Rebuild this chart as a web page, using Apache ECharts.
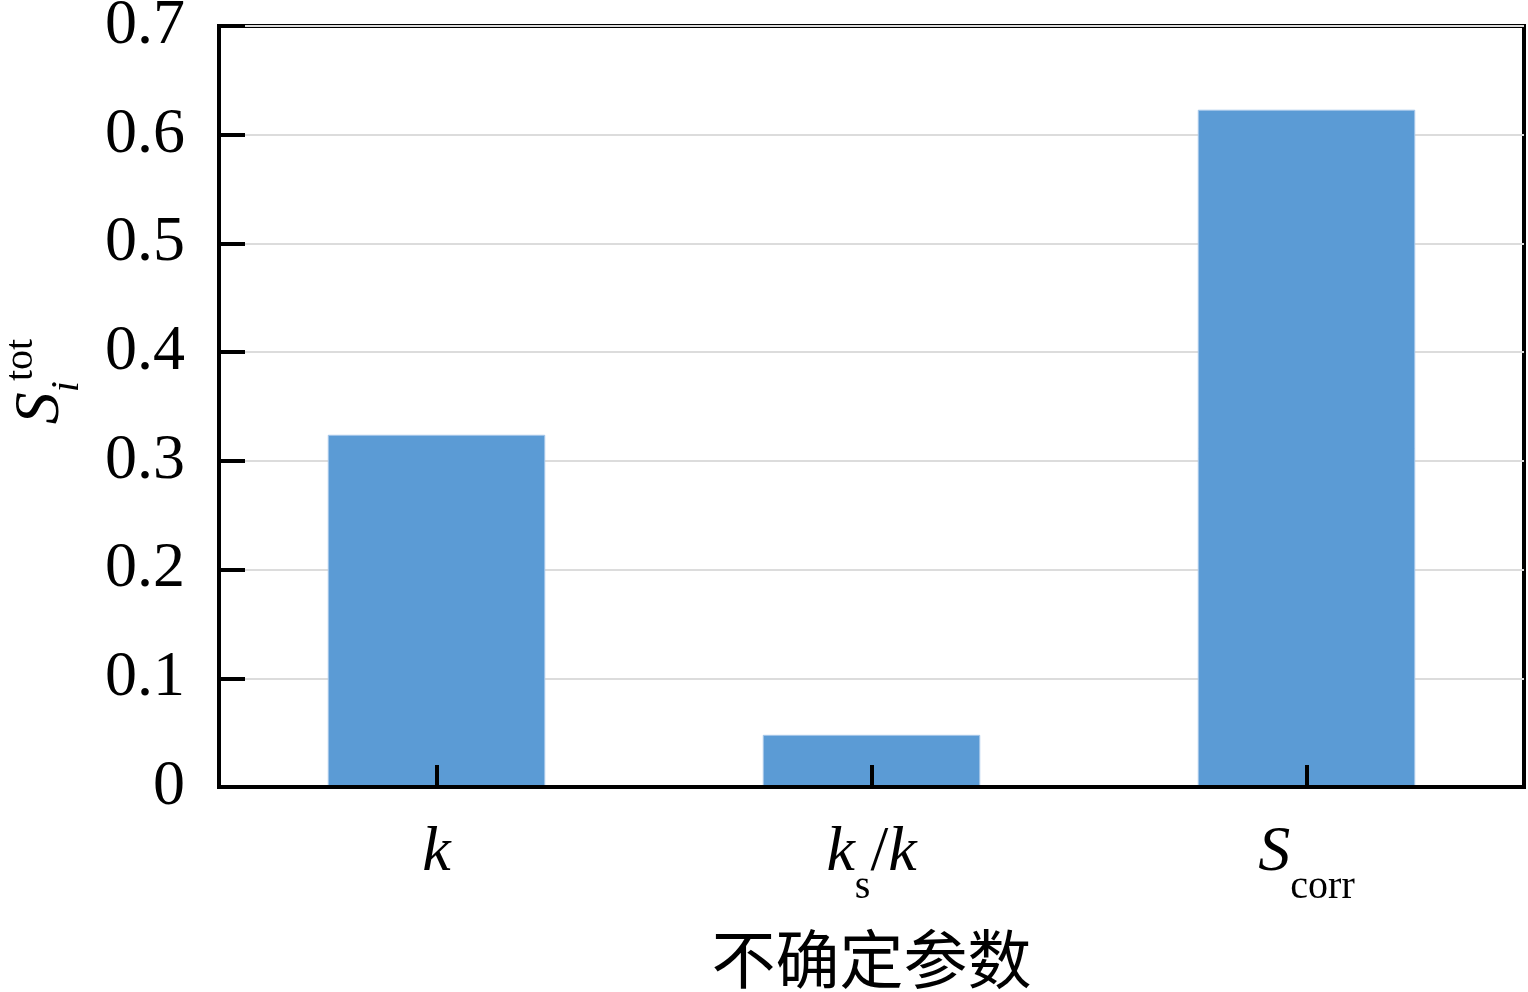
<!DOCTYPE html>
<html>
<head>
<meta charset="utf-8">
<script src="https://cdn.jsdelivr.net/npm/echarts@6/dist/echarts.min.js"></script>
<style>
html,body{margin:0;padding:0;background:#fff;}
#c{width:1528px;height:992px;}
</style>
</head>
<body>
<div id="c"></div>
<script>
const categories = ['k', 'ks/k', 'Scorr'];
const categoryLabels = ['{it|k}', '{it|k}{sub|s}{up|/}{it|k}', '{it|S}{sub2|corr}'];
const values = [0.324, 0.048, 0.623];
const yTicks = [0, 0.1, 0.2, 0.3, 0.4, 0.5, 0.6, 0.7];
const xAxisTitle = '不确定参数';

const serif = '"Liberation Serif", "DejaVu Serif", serif';
const chart = echarts.init(document.getElementById('c'));
chart.setOption({
  animation: false,
  backgroundColor: '#fff',
  grid: {
    left: 219, right: 4, top: 26, bottom: 205,
    containLabel: false,
    outerBoundsMode: 'none',
    show: true, borderColor: '#000', borderWidth: 4, backgroundColor: 'transparent'
  },
  xAxis: {
    type: 'category',
    data: categories,
    boundaryGap: true,
    z: 5,
    splitLine: { show: false },
    axisLine: { show: true, lineStyle: { color: '#000', width: 4 } },
    axisTick: { show: true, inside: true, alignWithLabel: true, length: 22, lineStyle: { color: '#000', width: 4 } },
    axisLabel: {
      margin: 34,
      formatter: function (v, i) { return categoryLabels[i]; },
      rich: {
        it: { fontFamily: serif, fontStyle: 'italic', fontSize: 64, color: '#000' },
        up: { fontFamily: serif, fontSize: 64, color: '#000' },
        sub: { fontFamily: serif, fontSize: 40, color: '#000', verticalAlign: 'bottom', padding: [0, 0, -22, 0] },
        sub2: { fontFamily: serif, fontSize: 40, color: '#000', verticalAlign: 'bottom', padding: [0, 0, -22, 0] }
      }
    },
    name: xAxisTitle,
    nameLocation: 'middle',
    nameGap: 140,
    nameTextStyle: { fontFamily: '"Noto Sans CJK SC", sans-serif', fontSize: 64, color: '#000' }
  },
  yAxis: {
    type: 'value',
    min: 0, max: 0.7, interval: 0.1,
    axisLine: { show: true, lineStyle: { color: '#000', width: 4 } },
    axisTick: { show: true, inside: true, length: 26, lineStyle: { color: '#000', width: 4 } },
    axisLabel: {
      margin: 34,
      fontFamily: serif, fontSize: 64, color: '#000',
      formatter: function (v) {
        const t = yTicks.find(x => Math.abs(x - v) < 1e-9);
        return t === 0 ? '0' : (t !== undefined ? t.toFixed(1) : '');
      }
    },
    splitLine: { show: true, lineStyle: { color: '#dcdcdc', width: 2 } },
    name: '{s|S}{i|i}{t|tot}',
    nameLocation: 'middle',
    nameRotate: 90,
    nameGap: 146,
    nameTextStyle: {
      padding: [0, 0, 0, 50],
      rich: {
        s: { fontFamily: serif, fontStyle: 'italic', fontSize: 64, color: '#000' },
        i: { fontFamily: serif, fontStyle: 'italic', fontSize: 40, color: '#000', verticalAlign: 'bottom', padding: [0, 0, -14, 0] },
        t: { fontFamily: serif, fontSize: 40, color: '#000', verticalAlign: 'top', padding: [-8, 0, 0, 0] }
      }
    }
  },
  series: [{
    type: 'bar',
    data: values,
    barWidth: '50%',
    itemStyle: { color: '#5B9BD5', borderColor: '#a8c8ea', borderWidth: 1 }
  }]
});
</script>
</body>
</html>
